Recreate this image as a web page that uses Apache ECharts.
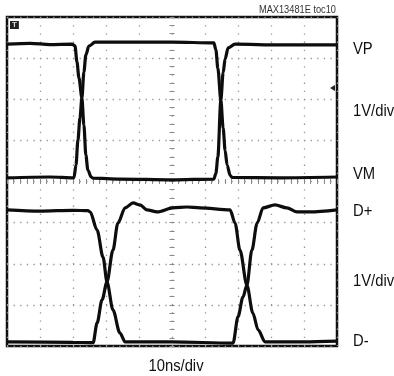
<!DOCTYPE html>
<html><head><meta charset="utf-8">
<script src="https://cdn.jsdelivr.net/npm/echarts@6/dist/echarts.min.js"></script>
<style>html,body{margin:0;padding:0;background:#fff}#c{width:394px;height:376px}</style>
</head><body><div id="c"></div>
<script>
// time in ns relative to screen centre (10 ns/div), amplitude in divisions (1 V/div)
const vpData = [[-50,3.34],[-43,3.36],[-37,3.33],[-30.3,3.34],[-29.4,3.30],[-28.8,2.91],[-28.2,2.52],[-27.3,2.03],[-26.7,1.37],[-26.1,0.64],[-25.5,0.28],[-24.5,0.11],[-23.9,0.08],[-15.8,0.06],[0,0.04],[12.7,0.06],[13.3,0.2],[13.9,0.6],[14.8,1.98],[15.5,2.65],[16.1,2.98],[17.0,3.25],[19.1,3.34],[32.7,3.32],[50,3.32]];
const vmData = [[-50,0.09],[-37,0.11],[-29.7,0.09],[-29.1,0.40],[-28.5,1.01],[-27.9,1.54],[-27.3,2.03],[-26.7,2.66],[-26.1,3.08],[-25.2,3.29],[-23.3,3.39],[0,3.39],[12.7,3.37],[13.3,3.2],[13.9,2.75],[14.8,1.98],[15.5,1.3],[16.1,0.75],[16.7,0.4],[17.6,0.15],[18.2,0.10],[32.7,0.09],[50,0.11]];
const dpData = [[-50,-0.69],[-40,-0.72],[-30,-0.70],[-25.5,-0.71],[-24.8,-0.74],[-22.7,-1.18],[-20.9,-1.84],[-19.7,-2.44],[-17.9,-3.12],[-15.8,-3.68],[-14.2,-3.90],[0,-3.90],[18.5,-3.93],[20.0,-3.29],[21.5,-2.81],[22.7,-2.52],[24.2,-1.67],[25.8,-1.01],[27.6,-0.64],[31.2,-0.57],[34.8,-0.64],[37.9,-0.74],[41.8,-0.74],[50,-0.69]];
const dmData = [[-50,-3.90],[-30,-3.91],[-23.9,-3.92],[-22.7,-3.44],[-21.2,-2.88],[-19.7,-2.44],[-17.9,-1.67],[-16.4,-1.01],[-14.2,-0.64],[-11.8,-0.52],[-9.7,-0.57],[-7.6,-0.69],[-4.5,-0.74],[0.3,-0.64],[4.5,-0.62],[8.5,-0.64],[17.6,-0.69],[19.1,-1.01],[20.6,-1.67],[22.7,-2.52],[24.5,-3.20],[26.1,-3.61],[28.2,-3.90],[40,-3.90],[50,-3.88]];
const rightLabels = ['VP','1V/div','VM','D+','1V/div','D-'];
const rightLabelY = [49,111,174,211,281,341];
const xAxisLabel = '10ns/div';
const noteText = 'MAX13481E toc10';

const FONT = "'Liberation Sans',Arial,sans-serif";
const chart = echarts.init(document.getElementById('c'), null, {renderer:'canvas'});
const grid = {left:7, top:17, width:330, height:329, show:true, borderColor:'#111', borderWidth:2.5, backgroundColor:'#fff'};
const dotX = {show:true, lineStyle:{color:'#959595', width:1.3, type:[1.3,5.3]}};
const dotY = {show:true, lineStyle:{color:'#959595', width:1.3, type:[1.3,6.9]}};
const hidden = {axisLine:{show:false}, axisTick:{show:false}, axisLabel:{show:false}};
function centerTicks(len){return {show:true,length:len,interval:0,lineStyle:{color:'#8a8a8a',width:1}};}
function minor(len){return {show:true,splitNumber:5,length:len,lineStyle:{color:'#8a8a8a',width:1}};}
function centerAxis(pos, min, max, iv){
  return {type:'value',min:min,max:max,interval:iv,position:pos,axisLine:{show:false,onZero:true,onZeroAxisIndex:0},axisTick:centerTicks(2.5),minorTick:minor(2.5),axisLabel:{show:false},splitLine:{show:false}};
}
const option = {
  animation:false,
  grid: grid,
  xAxis: [
    Object.assign({type:'value',min:-50,max:50,interval:10,splitLine:dotY}, hidden),
    centerAxis('bottom',-50,50,10), centerAxis('top',-50,50,10)
  ],
  yAxis: [
    Object.assign({type:'value',min:-4,max:4,interval:1,splitLine:dotX}, hidden),
    centerAxis('left',-4,4,1), centerAxis('right',-4,4,1)
  ],
  series: [vpData, vmData, dpData, dmData].map(d => ({
    type:'line', data:d, symbol:'none', smooth:0.3, smoothMonotone:'x', silent:true,
    lineStyle:{color:'#0d0d0d', width:3.2}
  })),
  graphic: [].concat(
    rightLabels.map((t,i)=>({type:'text', x:353, y:rightLabelY[i], scaleX:0.87, style:{text:t, font:'17px '+FONT, fill:'#111', textVerticalAlign:'middle'}})),
    [
      {type:'text', x:176, y:366, scaleX:0.87, style:{text:xAxisLabel, font:'17px '+FONT, fill:'#111', textAlign:'center', textVerticalAlign:'middle'}},
      {type:'text', x:336, y:10, scaleX:0.88, style:{text:noteText, font:'10.5px '+FONT, fill:'#333', textAlign:'right', textVerticalAlign:'middle'}},
      {type:'text', x:10, y:21, style:{text:'T', font:'bold 8px sans-serif', fill:'#ddd', backgroundColor:'#222', padding:[0,2]}},
      {type:'polygon', shape:{points:[[330,88],[335,85],[335,91]]}, style:{fill:'#222'}}
    ]
  )
};
chart.setOption(option);
</script></body></html>
